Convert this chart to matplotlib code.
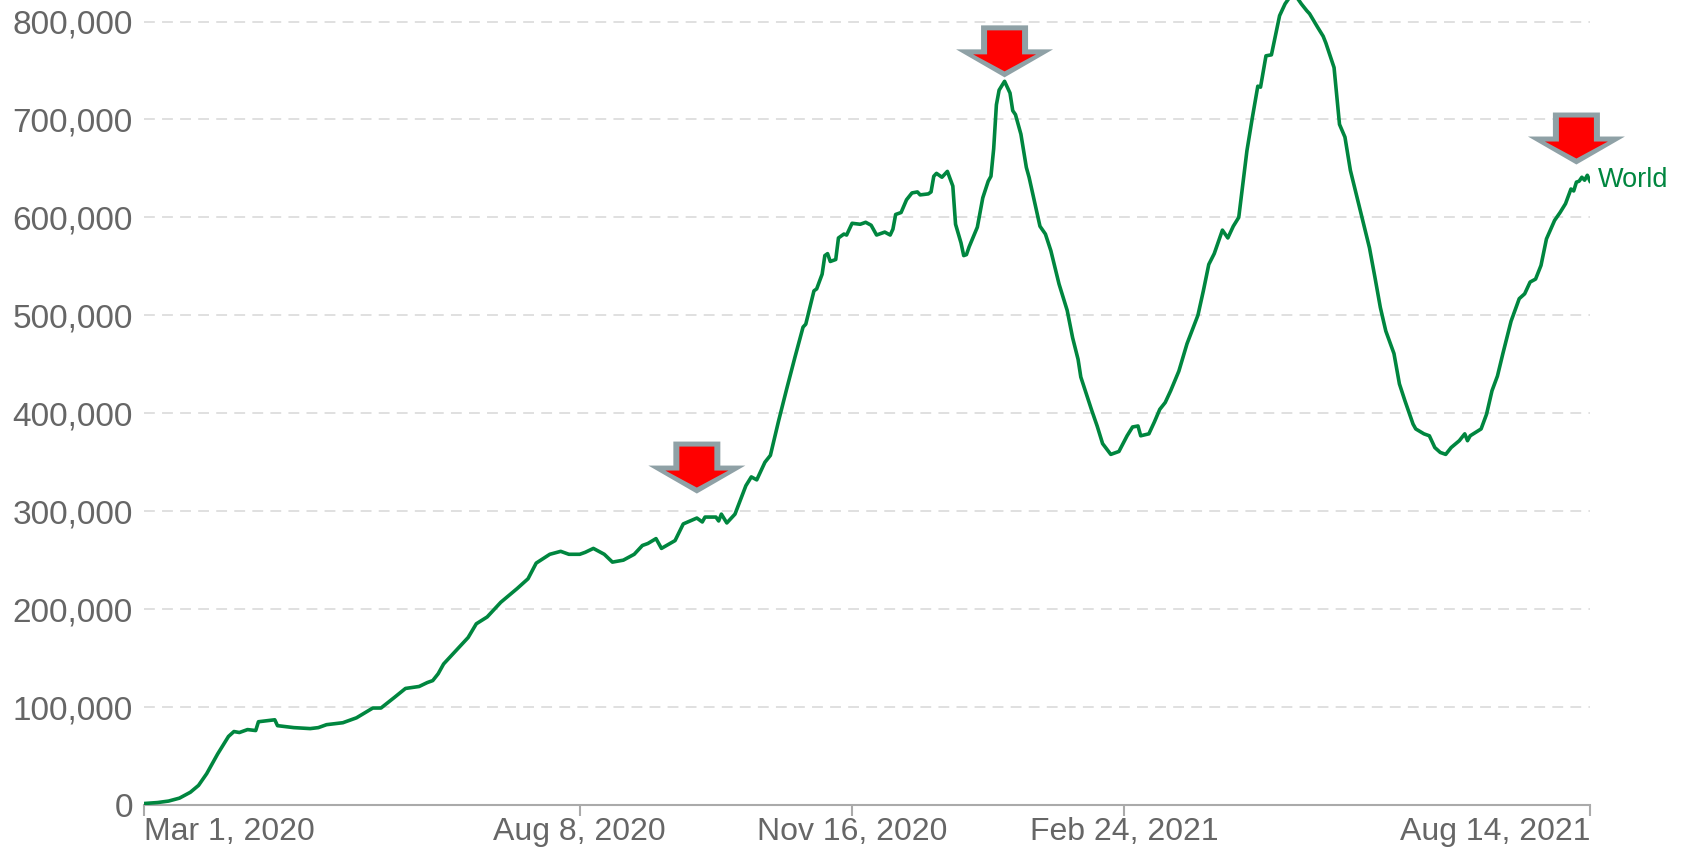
"""
Draws the world daily new cases line (7-day average) with three red marker arrows.
"""

import numpy as np
import matplotlib
matplotlib.use("Agg")
import matplotlib.pyplot as plot
import matplotlib.dates as mdates
from matplotlib.patches import Polygon
from matplotlib.transforms import Affine2D, ScaledTranslation


dates = [
  "2020-03-01", "2020-03-06", "2020-03-10", "2020-03-14", "2020-03-18", "2020-03-21",
  "2020-03-24", "2020-03-28", "2020-04-01", "2020-04-03", "2020-04-05", "2020-04-08",
  "2020-04-11", "2020-04-12", "2020-04-15", "2020-04-18", "2020-04-19", "2020-04-25",
  "2020-05-01", "2020-05-04", "2020-05-07", "2020-05-13", "2020-05-18", "2020-05-24",
  "2020-05-27", "2020-06-01", "2020-06-05", "2020-06-10", "2020-06-13", "2020-06-15",
  "2020-06-17", "2020-06-19", "2020-06-24", "2020-06-28", "2020-07-01", "2020-07-05",
  "2020-07-10", "2020-07-16", "2020-07-20", "2020-07-23", "2020-07-28", "2020-08-01",
  "2020-08-04", "2020-08-08", "2020-08-10", "2020-08-13", "2020-08-17", "2020-08-20",
  "2020-08-24", "2020-08-28", "2020-08-31", "2020-09-02", "2020-09-05", "2020-09-07",
  "2020-09-12", "2020-09-15", "2020-09-20", "2020-09-22", "2020-09-23", "2020-09-27",
  "2020-09-28", "2020-09-29", "2020-10-01", "2020-10-04", "2020-10-08", "2020-10-10",
  "2020-10-12", "2020-10-15", "2020-10-17", "2020-10-20", "2020-10-23", "2020-10-26",
  "2020-10-29", "2020-10-30", "2020-11-02", "2020-11-03", "2020-11-05", "2020-11-06",
  "2020-11-07", "2020-11-08", "2020-11-10", "2020-11-11", "2020-11-13", "2020-11-14",
  "2020-11-16", "2020-11-19", "2020-11-21", "2020-11-23", "2020-11-25", "2020-11-28",
  "2020-11-30", "2020-12-01", "2020-12-02", "2020-12-04", "2020-12-06", "2020-12-08",
  "2020-12-10", "2020-12-11", "2020-12-14", "2020-12-15", "2020-12-16", "2020-12-17",
  "2020-12-19", "2020-12-20", "2020-12-21", "2020-12-23", "2020-12-24", "2020-12-26",
  "2020-12-27", "2020-12-28", "2020-12-29", "2021-01-01", "2021-01-03", "2021-01-05",
  "2021-01-06", "2021-01-07", "2021-01-08", "2021-01-09", "2021-01-11", "2021-01-13",
  "2021-01-14", "2021-01-15", "2021-01-17", "2021-01-19", "2021-01-20", "2021-01-24",
  "2021-01-26", "2021-01-28", "2021-01-31", "2021-02-03", "2021-02-05", "2021-02-07",
  "2021-02-08", "2021-02-10", "2021-02-12", "2021-02-14", "2021-02-16", "2021-02-19",
  "2021-02-22", "2021-02-25", "2021-02-27", "2021-03-01", "2021-03-02", "2021-03-05",
  "2021-03-07", "2021-03-09", "2021-03-11", "2021-03-13", "2021-03-16", "2021-03-19",
  "2021-03-23", "2021-03-25", "2021-03-27", "2021-03-29", "2021-04-01", "2021-04-03",
  "2021-04-05", "2021-04-07", "2021-04-10", "2021-04-12", "2021-04-14", "2021-04-15",
  "2021-04-17", "2021-04-19", "2021-04-22", "2021-04-24", "2021-04-26", "2021-04-28",
  "2021-04-30", "2021-05-02", "2021-05-03", "2021-05-06", "2021-05-08", "2021-05-09",
  "2021-05-12", "2021-05-14", "2021-05-16", "2021-05-18", "2021-05-22", "2021-05-25",
  "2021-05-27", "2021-05-29", "2021-05-31", "2021-06-03", "2021-06-05", "2021-06-07",
  "2021-06-10", "2021-06-11", "2021-06-14", "2021-06-16", "2021-06-18", "2021-06-20",
  "2021-06-22", "2021-06-24", "2021-06-27", "2021-06-29", "2021-06-30", "2021-07-01",
  "2021-07-05", "2021-07-07", "2021-07-09", "2021-07-11", "2021-07-13", "2021-07-16",
  "2021-07-19", "2021-07-21", "2021-07-23", "2021-07-25", "2021-07-27", "2021-07-29",
  "2021-08-01", "2021-08-03", "2021-08-05", "2021-08-07", "2021-08-08", "2021-08-09",
  "2021-08-10", "2021-08-11", "2021-08-12", "2021-08-13", "2021-08-14",
]

new_cases = [
  1500, 2500, 4000, 7000, 13000, 20000,
  32000, 52000, 70000, 75000, 74000, 77000,
  76000, 85000, 86000, 87000, 81000, 79000,
  78000, 79000, 82000, 84000, 89000, 99000,
  99000, 110000, 119000, 121000, 125000, 127000,
  134000, 144000, 159000, 171000, 185000, 192000,
  207000, 221000, 231000, 247000, 256000, 259000,
  256000, 256000, 258000, 262000, 256000, 248000,
  250000, 256000, 265000, 267000, 272000, 262000,
  270000, 287000, 293000, 289000, 294000, 294000,
  290000, 297000, 288000, 297000, 326000, 335000,
  332000, 350000, 357000, 392000, 425000, 457000,
  488000, 491000, 525000, 527000, 542000, 561000,
  563000, 555000, 557000, 579000, 583000, 582000,
  594000, 593000, 595000, 592000, 582000, 585000,
  582000, 588000, 603000, 605000, 618000, 625000,
  626000, 623000, 624000, 626000, 642000, 645000,
  641000, 644000, 647000, 632000, 593000, 574000,
  561000, 562000, 570000, 590000, 620000, 637000,
  642000, 670000, 715000, 730000, 739000, 727000,
  709000, 705000, 685000, 651000, 641000, 591000,
  583000, 566000, 532000, 505000, 477000, 455000,
  437000, 420000, 403000, 387000, 369000, 358000,
  361000, 377000, 386000, 387000, 377000, 379000,
  391000, 404000, 411000, 423000, 443000, 471000,
  500000, 525000, 552000, 563000, 587000, 579000,
  591000, 600000, 668000, 702000, 734000, 733000,
  765000, 766000, 806000, 818000, 826000, 826000,
  818000, 811000, 808000, 794000, 785000, 778000,
  753000, 695000, 682000, 648000, 603000, 569000,
  539000, 508000, 484000, 461000, 430000, 413000,
  389000, 384000, 379000, 377000, 365000, 360000,
  358000, 365000, 372000, 379000, 372000, 377000,
  384000, 399000, 423000, 438000, 461000, 494000,
  517000, 522000, 534000, 537000, 551000, 578000,
  597000, 605000, 614000, 629000, 627000, 636000,
  637000, 641000, 638000, 643000, 637000,
]

series_name = "World"

tick_dates = ["2020-03-01", "2020-08-08", "2020-11-16", "2021-02-24", "2021-08-14"]
tick_labels = ["Mar 1, 2020", "Aug 8, 2020", "Nov 16, 2020", "Feb 24, 2021", "Aug 14, 2021"]
y_ticks = [0, 100000, 200000, 300000, 400000, 500000, 600000, 700000, 800000]

arrow_dates = ["2020-09-20", "2021-01-11", "2021-08-09"]
arrow_values = [318000, 743000, 654000]

LINE_COLOUR = "#00863f"
TEXT_COLOUR = "#666666"

# arrow outlines in pixels, relative to the tip
ARROW_OUTER = [(0, 0), (48.5, 28), (23.5, 28), (23.5, 52), (-23.5, 52), (-23.5, 28), (-48.5, 28)]
ARROW_INNER = [(0, 6), (31.5, 23), (17.5, 23), (17.5, 47), (-17.5, 47), (-17.5, 23), (-31.5, 23)]


def add_arrow(axes, when, value):
  """
  Draws one grey-edged red arrow pointing down at the given point.
  """
  x = mdates.date2num(np.datetime64(when))
  transform = Affine2D() + ScaledTranslation(x, value, axes.transData)
  axes.add_patch(Polygon(ARROW_OUTER, closed=True, facecolor="#8fa1a6", edgecolor="none",
                         transform=transform, clip_on=False, zorder=5))
  axes.add_patch(Polygon(ARROW_INNER, closed=True, facecolor="#ff0000", edgecolor="none",
                         transform=transform, clip_on=False, zorder=6))


def main():
  plot.rcParams["font.family"] = ["Liberation Sans", "DejaVu Sans"]

  figure = plot.figure(figsize=(16.89, 8.55), dpi=100)
  axes = figure.add_axes([0.0853, 0.0585, 0.8561, 0.9415])

  x = np.array(dates, dtype="datetime64[D]")
  axes.plot(x, new_cases, color=LINE_COLOUR, linewidth=2.6, solid_joinstyle="round", zorder=3)

  axes.set_xlim(np.datetime64(tick_dates[0]), np.datetime64(tick_dates[-1]))
  axes.set_ylim(0, 822000)

  axes.set_xticks(np.array(tick_dates, dtype="datetime64[D]"))
  axes.set_xticklabels(tick_labels)
  labels = axes.get_xticklabels()
  labels[0].set_horizontalalignment("left")
  labels[-1].set_horizontalalignment("right")

  axes.set_yticks(y_ticks)
  axes.set_yticklabels([f"{v:,}" for v in y_ticks])

  axes.tick_params(axis="x", length=8, width=1.5, color="#aaaaaa", pad=1,
                   labelsize=23, labelcolor=TEXT_COLOUR)
  axes.tick_params(axis="y", length=0, pad=8, labelsize=24, labelcolor=TEXT_COLOUR)

  for side in ("top", "right", "left"):
    axes.spines[side].set_visible(False)
  axes.spines["bottom"].set_color("#aaaaaa")
  axes.spines["bottom"].set_linewidth(1.5)

  axes.yaxis.grid(True, color="#dddddd", linestyle=(0, (6, 4)), linewidth=1.3)
  axes.set_axisbelow(True)

  axes.annotate(series_name, xy=(x[-1], new_cases[-1]), xytext=(6, 1),
                textcoords="offset points", color=LINE_COLOUR, fontsize=19.5,
                va="center", ha="left", annotation_clip=False)

  for when, value in zip(arrow_dates, arrow_values):
    add_arrow(axes, when, value)

  plot.savefig("out.png", dpi=100)
  plot.close()


if __name__ == "__main__":
  main()
